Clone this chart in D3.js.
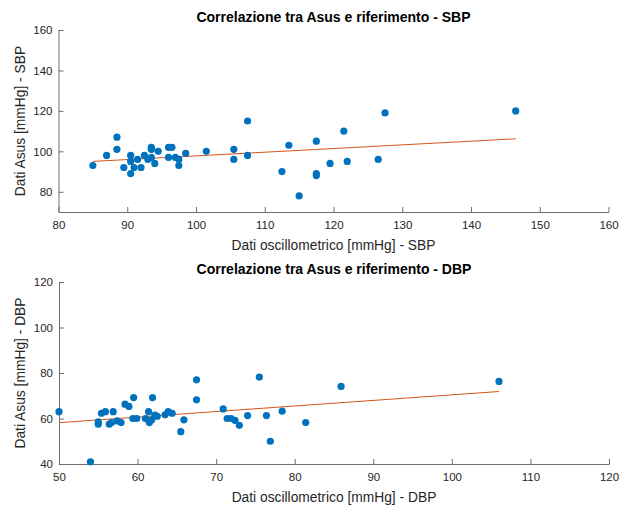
<!DOCTYPE html>
<html>
<head>
<meta charset="utf-8">
<script src="https://cdn.jsdelivr.net/npm/d3@7"></script>
<style>
  html, body { margin: 0; padding: 0; background: #ffffff; }
  svg { display: block; }
  text { font-family: "Liberation Sans", Arial, Helvetica, sans-serif; }
</style>
</head>
<body>
<svg id="chart" width="620" height="505"></svg>
<script>
// Systolic pressure: oscillometric reference vs Asus readings (mmHg)
const sbpRef = [85, 87, 88.5, 88.5, 89.5, 90.5, 90.5, 90.5, 91, 91.5, 92, 92.5, 93, 93.5, 93.5, 93.5,
  94, 94.5, 96, 96.5, 96, 97, 97.5, 97.5, 98.5, 101.5, 105.5, 105.5, 107.5, 107.5, 112.5, 113.5,
  115, 117.5, 117.5, 117.5, 119.5, 121.5, 122, 126.5, 127.5, 146.5];
const sbpAsus = [93, 98, 107, 101, 92, 98, 95, 89, 92, 96, 92, 98, 96, 102, 101, 97,
  94, 100, 102, 102, 97, 97, 96, 93, 99, 100, 101, 96, 115, 98, 90, 103,
  78, 105, 89, 88, 94, 110, 95, 96, 119, 120];

// Diastolic pressure: oscillometric reference vs Asus readings (mmHg)
const dbpRef = [50, 54, 55, 55, 55.4, 55.9, 56.4, 56.7, 56.9, 57.4, 57.9, 58.4, 58.9, 59.5, 59.4,
  59.9, 61, 61.4, 61.5, 61.8, 61.9, 62.2, 62.5, 63.5, 63.9, 64.4, 65.5, 65.9, 67.5, 67.5,
  70.9, 71.4, 71.9, 72.4, 72.95, 74, 75.5, 76.4, 76.9, 78.4, 81.4, 85.9, 106];
const dbpAsus = [63, 41, 57.5, 58.5, 62.3, 63, 57.5, 58.2, 63, 59, 58.2, 66.3, 65.3, 69.2, 60,
  60, 60, 63, 58.2, 59.4, 69.2, 61.5, 61, 61.6, 63, 62.3, 54.2, 59.4, 77, 68.2,
  64.2, 60, 60, 59.2, 57, 61.3, 78.2, 61.3, 50, 63.2, 58.2, 74.1, 76.3];

// Axis ranges and ticks
const sbpXTicks = [80, 90, 100, 110, 120, 130, 140, 150, 160];
const sbpYTicks = [80, 100, 120, 140, 160];
const dbpXTicks = [50, 60, 70, 80, 90, 100, 110, 120];
const dbpYTicks = [40, 60, 80, 100, 120];

const panels = [
  { x: sbpRef, y: sbpAsus, xDomain: [80, 160], yDomain: [70, 160],
    xTicks: sbpXTicks, yTicks: sbpYTicks,
    title: "Correlazione tra Asus e riferimento - SBP",
    xLabel: "Dati oscillometrico [mmHg] - SBP",
    yLabel: "Dati Asus [mmHg] - SBP",
    box: { left: 58.5, right: 608.5, top: 30, bottom: 212 } },
  { x: dbpRef, y: dbpAsus, xDomain: [50, 120], yDomain: [40, 120],
    xTicks: dbpXTicks, yTicks: dbpYTicks,
    title: "Correlazione tra Asus e riferimento - DBP",
    xLabel: "Dati oscillometrico [mmHg] - DBP",
    yLabel: "Dati Asus [mmHg] - DBP",
    box: { left: 59, right: 609, top: 282, bottom: 464 } }
];

const svg = d3.select("#chart");
const axisColor = "#6e6e6e";
const textColor = "#262626";
const dotColor = "#0072BD";
const fitColor = "#D95319";

// Least-squares fit y = a + b x
function linearFit(xs, ys) {
  const mx = d3.mean(xs), my = d3.mean(ys);
  let sxy = 0, sxx = 0;
  xs.forEach((v, i) => { sxy += (v - mx) * (ys[i] - my); sxx += (v - mx) * (v - mx); });
  const b = sxy / sxx;
  return { a: my - b * mx, b };
}

panels.forEach(p => {
  const bx = p.box;
  const xs = d3.scaleLinear().domain(p.xDomain).range([bx.left, bx.right]);
  const ys = d3.scaleLinear().domain(p.yDomain).range([bx.bottom, bx.top]);
  const g = svg.append("g");

  // x axis, ticks pointing inward
  const xAxis = g.append("g")
    .attr("transform", `translate(0,${bx.bottom})`)
    .call(d3.axisBottom(xs).tickValues(p.xTicks).tickFormat(d3.format("d"))
      .tickSizeInner(-5).tickSizeOuter(0).tickPadding(9));
  // y axis, ticks pointing inward
  const yAxis = g.append("g")
    .attr("transform", `translate(${bx.left},0)`)
    .call(d3.axisLeft(ys).tickValues(p.yTicks).tickFormat(d3.format("d"))
      .tickSizeInner(-5).tickSizeOuter(0).tickPadding(6));

  [xAxis, yAxis].forEach(ax => {
    ax.select(".domain").attr("stroke", axisColor).attr("stroke-width", 1);
    ax.selectAll(".tick line").attr("stroke", axisColor).attr("stroke-width", 1);
    ax.selectAll(".tick text").attr("fill", textColor)
      .style("font-size", "11.5px");
  });

  // fitted line across the observed x range
  const fit = linearFit(p.x, p.y);
  const [x0, x1] = d3.extent(p.x);
  g.append("line")
    .attr("x1", xs(x0)).attr("y1", ys(fit.a + fit.b * x0))
    .attr("x2", xs(x1)).attr("y2", ys(fit.a + fit.b * x1))
    .attr("stroke", fitColor).attr("stroke-width", 1);

  // scatter points
  g.append("g").selectAll("circle")
    .data(p.x.map((v, i) => [v, p.y[i]]))
    .join("circle")
    .attr("cx", d => xs(d[0]))
    .attr("cy", d => ys(d[1]))
    .attr("r", 3.6)
    .attr("fill", dotColor);

  // title
  g.append("text")
    .attr("x", (bx.left + bx.right) / 2)
    .attr("y", bx.top - 8)
    .attr("text-anchor", "middle")
    .attr("fill", "#000")
    .style("font-size", "14px")
    .style("font-weight", "bold")
    .text(p.title);

  // axis labels
  g.append("text")
    .attr("x", (bx.left + bx.right) / 2)
    .attr("y", bx.bottom + 38)
    .attr("text-anchor", "middle")
    .attr("fill", textColor)
    .style("font-size", "13.8px")
    .text(p.xLabel);

  g.append("text")
    .attr("transform", `translate(${25},${(bx.top + bx.bottom) / 2}) rotate(-90)`)
    .attr("text-anchor", "middle")
    .attr("fill", textColor)
    .style("font-size", "13.8px")
    .text(p.yLabel);
});
</script>
</body>
</html>
